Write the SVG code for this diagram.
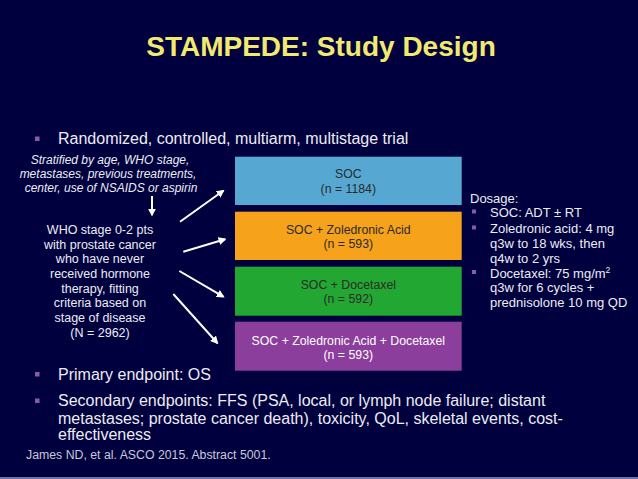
<svg xmlns="http://www.w3.org/2000/svg" width="638" height="479" viewBox="0 0 638 479">
<style>
text{font-family:"Liberation Sans",Arial,sans-serif}
.title{font-size:28px;font-weight:bold;fill:#f2ea6e;text-anchor:middle}
.main{font-size:16px;fill:#ececf2}
.bul{fill:#8a5aa8}
.strat{font-size:12px;font-style:italic;fill:#ececf2;text-anchor:middle}
.who{font-size:12.5px;fill:#ececf2;text-anchor:middle}
.box{font-size:12.3px;fill:#2a2a2a;text-anchor:middle}
.boxw{font-size:12.3px;fill:#ffffff;text-anchor:middle}
.dose{font-size:13px;fill:#ececf2}
.ref{font-size:12.3px;fill:#c8c8d8}
.arr{stroke:#ffffff;stroke-width:2;fill:none;marker-end:url(#ah)}
</style>
<defs>
<marker id="ah" viewBox="0 0 10 10" refX="8" refY="5" markerWidth="4" markerHeight="4" orient="auto" markerUnits="strokeWidth">
<path d="M0,0 L10,5 L0,10 z" fill="#ffffff"/>
</marker>
</defs>
<rect width="638" height="479" fill="#00003e"/>
<rect x="0" y="477" width="638" height="2" fill="#7070a8"/>
<text class="title" x="321" y="56">STAMPEDE: Study Design</text>
<g id="bullet-randomized">
<rect class="bul" x="35" y="136.5" width="4.5" height="4.5"/>
<text class="main" x="58" y="144">Randomized, controlled, multiarm, multistage trial</text>
</g>
<g id="stratified">
<text class="strat" x="110" y="164">Stratified by age, WHO stage,</text>
<text class="strat" x="108" y="178">metastases, previous treatments,</text>
<text class="strat" x="111" y="192">center, use of NSAIDS or aspirin</text>
</g>
<g id="who">
<text class="who" x="100" y="234">WHO stage 0-2 pts</text>
<text class="who" x="100" y="248.7">with prostate cancer</text>
<text class="who" x="100" y="263.3">who have never</text>
<text class="who" x="100" y="278">received hormone</text>
<text class="who" x="100" y="292.7">therapy, fitting</text>
<text class="who" x="100" y="307.3">criteria based on</text>
<text class="who" x="100" y="322">stage of disease</text>
<text class="who" x="100" y="336.7">(N = 2962)</text>
</g>
<g id="arm-soc">
<rect x="235" y="156.7" width="226.7" height="48.3" fill="#56a8d3"/>
<text class="box" x="348.3" y="178.3">SOC</text>
<text class="box" x="348.3" y="192.7">(n = 1184)</text>
</g>
<g id="arm-zol">
<rect x="235" y="211.7" width="226.7" height="48.3" fill="#f7a21b"/>
<text class="box" x="348.3" y="234">SOC + Zoledronic Acid</text>
<text class="box" x="348.3" y="248.3">(n = 593)</text>
</g>
<g id="arm-doc">
<rect x="235" y="266.7" width="226.7" height="49" fill="#22a832"/>
<text class="box" x="348.3" y="289">SOC + Docetaxel</text>
<text class="box" x="348.3" y="303.3">(n = 592)</text>
</g>
<g id="arm-zol-doc">
<rect x="235" y="321.7" width="226.7" height="49" fill="#8b3e9b"/>
<text class="boxw" x="348.3" y="345">SOC + Zoledronic Acid + Docetaxel</text>
<text class="boxw" x="348.3" y="359.3">(n = 593)</text>
</g>
<g id="connectors">
<line class="arr" x1="152" y1="196" x2="152" y2="215"/>
<line class="arr" x1="180" y1="221.7" x2="223.3" y2="190.7"/>
<line class="arr" x1="183.3" y1="251.7" x2="225" y2="239.3"/>
<line class="arr" x1="179.3" y1="271" x2="223.3" y2="296.7"/>
<line class="arr" x1="173.3" y1="294" x2="217.3" y2="343"/>
</g>
<g id="dosage">
<text class="dose" x="470" y="203.3">Dosage:</text>
<rect class="bul" x="472" y="209.5" width="4" height="4"/>
<text class="dose" x="490" y="217.3">SOC: ADT ± RT</text>
<rect class="bul" x="472" y="225.5" width="4" height="4"/>
<text class="dose" x="490" y="233.3">Zoledronic acid: 4 mg</text>
<text class="dose" x="490" y="248">q3w to 18 wks, then</text>
<text class="dose" x="490" y="262.7">q4w to 2 yrs</text>
<rect class="bul" x="472" y="270" width="4" height="4"/>
<text class="dose" x="490" y="277.7">Docetaxel: 75 mg/m<tspan font-size="8.5px" dy="-5">2</tspan></text>
<text class="dose" x="490" y="292.3">q3w for 6 cycles +</text>
<text class="dose" x="490" y="307.3">prednisolone 10 mg QD</text>
</g>
<g id="endpoints">
<rect class="bul" x="35" y="372" width="4.5" height="4.5"/>
<text class="main" x="58" y="379.5">Primary endpoint: OS</text>
<rect class="bul" x="35" y="398.5" width="4.5" height="4.5"/>
<text class="main" x="58" y="406">Secondary endpoints: FFS (PSA, local, or lymph node failure; distant</text>
<text class="main" x="58" y="423.5">metastases; prostate cancer death), toxicity, QoL, skeletal events, cost-</text>
<text class="main" x="58" y="440">effectiveness</text>
</g>
<text class="ref" x="26" y="459">James ND, et al. ASCO 2015. Abstract 5001.</text>
</svg>
